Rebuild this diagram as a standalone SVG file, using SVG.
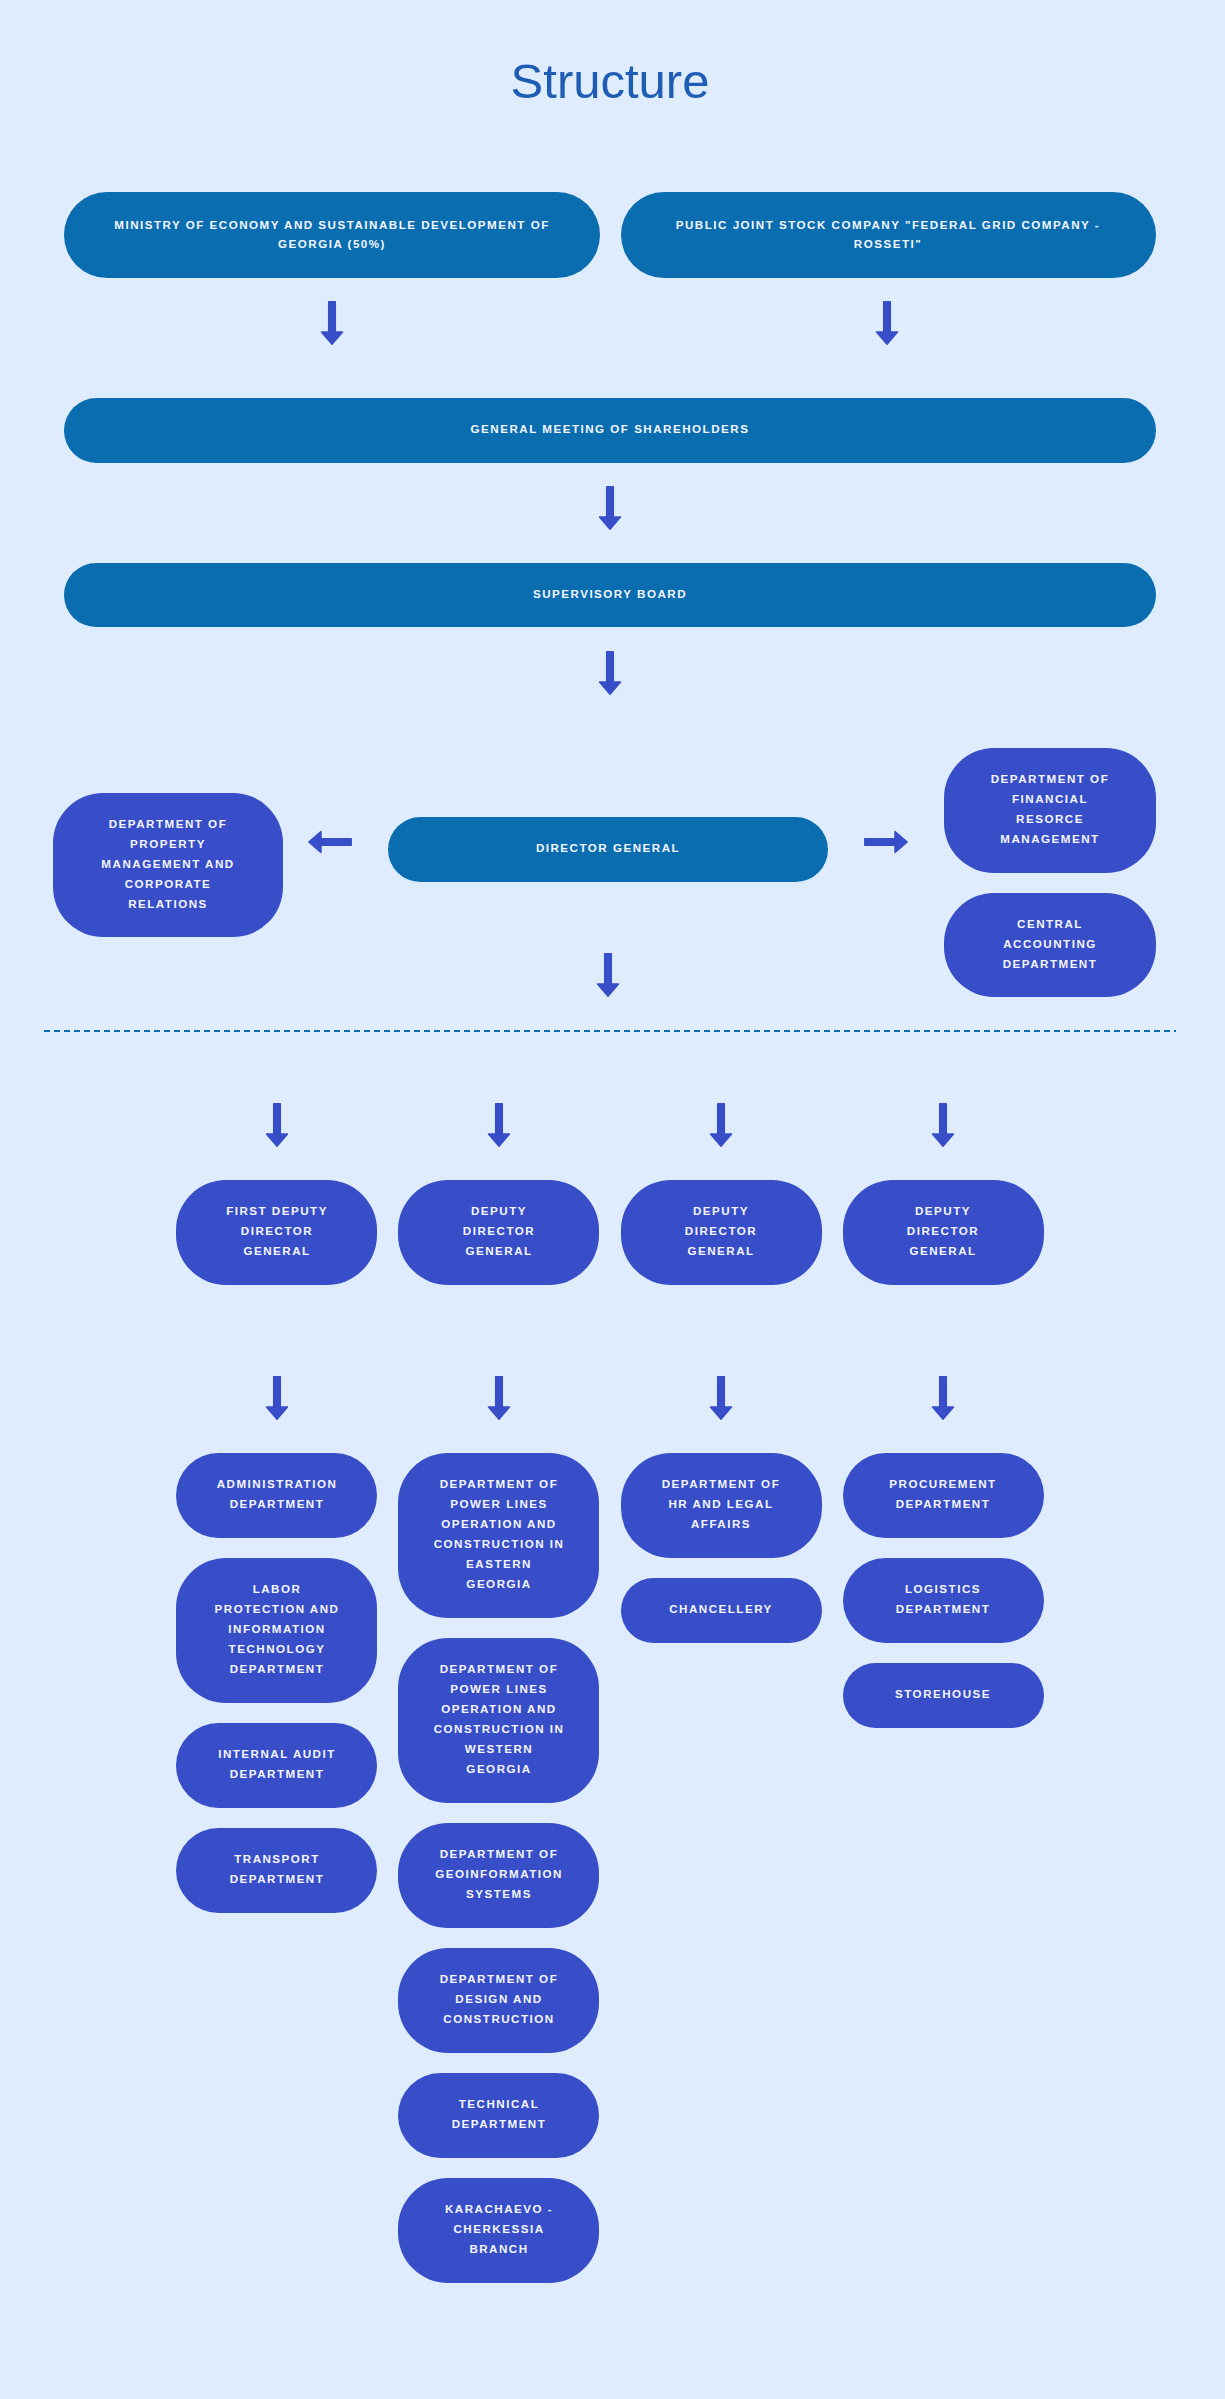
<svg xmlns="http://www.w3.org/2000/svg" xmlns:xlink="http://www.w3.org/1999/xlink" width="1225" height="2399" viewBox="0 0 1225 2399">
<style>
.bg{fill:#deecfe}
.dk{fill:#0a6db0}
.pu{fill:#384ec8}
.t{font-family:"Liberation Sans",Arial,sans-serif;font-weight:bold;font-size:11.6px;letter-spacing:1.5px;fill:#f4f6ff;text-anchor:middle}
.title{font-family:"Liberation Sans",Arial,sans-serif;font-size:49px;fill:#1f5db5;text-anchor:middle}
.arr{fill:#384ec8;stroke:#384ec8;stroke-width:1.5;stroke-linejoin:round}
.dash{stroke:#0a6db0;stroke-width:2;stroke-dasharray:6 4;fill:none}
</style>
<defs>
<path id="ad" class="arr" d="M-3.3,0.8 H3.3 V31 H10.5 L0,43.2 L-10.5,31 H-3.3 Z"/>
</defs>
<rect class="bg" x="0" y="0" width="1225" height="2399"/>
<text class="title" x="610" y="98">Structure</text>

<g id="connectors">
<use xlink:href="#ad" x="332" y="301"/>
<use xlink:href="#ad" x="887" y="301"/>
<use xlink:href="#ad" x="610" y="486"/>
<use xlink:href="#ad" x="610" y="651"/>
<use xlink:href="#ad" x="608" y="953"/>
<use xlink:href="#ad" transform="translate(352,842) rotate(90)"/>
<use xlink:href="#ad" transform="translate(864,842) rotate(-90)"/>
<line class="dash" x1="44" y1="1031" x2="1176" y2="1031"/>
<use xlink:href="#ad" x="277" y="1103"/>
<use xlink:href="#ad" x="499" y="1103"/>
<use xlink:href="#ad" x="721" y="1103"/>
<use xlink:href="#ad" x="943" y="1103"/>
<use xlink:href="#ad" x="277" y="1376"/>
<use xlink:href="#ad" x="499" y="1376"/>
<use xlink:href="#ad" x="721" y="1376"/>
<use xlink:href="#ad" x="943" y="1376"/>
</g>

<g id="ministry"><rect class="dk" x="64" y="192" width="536" height="86" rx="43" ry="43"/>
<text class="t" x="332" y="229">MINISTRY OF ECONOMY AND SUSTAINABLE DEVELOPMENT OF</text>
<text class="t" x="332" y="248">GEORGIA (50%)</text></g>

<g id="rosseti"><rect class="dk" x="621" y="192" width="535" height="86" rx="43" ry="43"/>
<text class="t" x="888" y="229">PUBLIC JOINT STOCK COMPANY "FEDERAL GRID COMPANY -</text>
<text class="t" x="888" y="248">ROSSETI"</text></g>

<g id="general-meeting"><rect class="dk" x="64" y="398" width="1092" height="65" rx="32.5" ry="32.5"/>
<text class="t" x="610" y="433">GENERAL MEETING OF SHAREHOLDERS</text></g>

<g id="supervisory-board"><rect class="dk" x="64" y="563" width="1092" height="64" rx="32" ry="32"/>
<text class="t" x="610" y="598">SUPERVISORY BOARD</text></g>

<g id="director-general"><rect class="dk" x="388" y="817" width="440" height="65" rx="32.5" ry="32.5"/>
<text class="t" x="608" y="852">DIRECTOR GENERAL</text></g>

<g id="property"><rect class="pu" x="53" y="793" width="230" height="144" rx="50" ry="50"/>
<text class="t" x="168" y="828">DEPARTMENT OF</text>
<text class="t" x="168" y="848">PROPERTY</text>
<text class="t" x="168" y="868">MANAGEMENT AND</text>
<text class="t" x="168" y="888">CORPORATE</text>
<text class="t" x="168" y="908">RELATIONS</text></g>

<g id="financial"><rect class="pu" x="944" y="748" width="212" height="125" rx="50" ry="50"/>
<text class="t" x="1050" y="783">DEPARTMENT OF</text>
<text class="t" x="1050" y="803">FINANCIAL</text>
<text class="t" x="1050" y="823">RESORCE</text>
<text class="t" x="1050" y="843">MANAGEMENT</text></g>

<g id="central-accounting"><rect class="pu" x="944" y="893" width="212" height="104" rx="50" ry="50"/>
<text class="t" x="1050" y="928">CENTRAL</text>
<text class="t" x="1050" y="948">ACCOUNTING</text>
<text class="t" x="1050" y="968">DEPARTMENT</text></g>

<g id="first-deputy"><rect class="pu" x="176" y="1180" width="201" height="105" rx="50" ry="50"/>
<text class="t" x="277" y="1215">FIRST DEPUTY</text>
<text class="t" x="277" y="1235">DIRECTOR</text>
<text class="t" x="277" y="1255">GENERAL</text></g>

<g id="deputy-2"><rect class="pu" x="398" y="1180" width="201" height="105" rx="50" ry="50"/>
<text class="t" x="499" y="1215">DEPUTY</text>
<text class="t" x="499" y="1235">DIRECTOR</text>
<text class="t" x="499" y="1255">GENERAL</text></g>

<g id="deputy-3"><rect class="pu" x="621" y="1180" width="201" height="105" rx="50" ry="50"/>
<text class="t" x="721" y="1215">DEPUTY</text>
<text class="t" x="721" y="1235">DIRECTOR</text>
<text class="t" x="721" y="1255">GENERAL</text></g>

<g id="deputy-4"><rect class="pu" x="843" y="1180" width="201" height="105" rx="50" ry="50"/>
<text class="t" x="943" y="1215">DEPUTY</text>
<text class="t" x="943" y="1235">DIRECTOR</text>
<text class="t" x="943" y="1255">GENERAL</text></g>

<g id="administration"><rect class="pu" x="176" y="1453" width="201" height="85" rx="42.5" ry="42.5"/>
<text class="t" x="277" y="1488">ADMINISTRATION</text>
<text class="t" x="277" y="1508">DEPARTMENT</text></g>

<g id="labor"><rect class="pu" x="176" y="1558" width="201" height="145" rx="50" ry="50"/>
<text class="t" x="277" y="1593">LABOR</text>
<text class="t" x="277" y="1613">PROTECTION AND</text>
<text class="t" x="277" y="1633">INFORMATION</text>
<text class="t" x="277" y="1653">TECHNOLOGY</text>
<text class="t" x="277" y="1673">DEPARTMENT</text></g>

<g id="internal-audit"><rect class="pu" x="176" y="1723" width="201" height="85" rx="42.5" ry="42.5"/>
<text class="t" x="277" y="1758">INTERNAL AUDIT</text>
<text class="t" x="277" y="1778">DEPARTMENT</text></g>

<g id="transport"><rect class="pu" x="176" y="1828" width="201" height="85" rx="42.5" ry="42.5"/>
<text class="t" x="277" y="1863">TRANSPORT</text>
<text class="t" x="277" y="1883">DEPARTMENT</text></g>

<g id="eastern"><rect class="pu" x="398" y="1453" width="201" height="165" rx="50" ry="50"/>
<text class="t" x="499" y="1488">DEPARTMENT OF</text>
<text class="t" x="499" y="1508">POWER LINES</text>
<text class="t" x="499" y="1528">OPERATION AND</text>
<text class="t" x="499" y="1548">CONSTRUCTION IN</text>
<text class="t" x="499" y="1568">EASTERN</text>
<text class="t" x="499" y="1588">GEORGIA</text></g>

<g id="western"><rect class="pu" x="398" y="1638" width="201" height="165" rx="50" ry="50"/>
<text class="t" x="499" y="1673">DEPARTMENT OF</text>
<text class="t" x="499" y="1693">POWER LINES</text>
<text class="t" x="499" y="1713">OPERATION AND</text>
<text class="t" x="499" y="1733">CONSTRUCTION IN</text>
<text class="t" x="499" y="1753">WESTERN</text>
<text class="t" x="499" y="1773">GEORGIA</text></g>

<g id="geoinformation"><rect class="pu" x="398" y="1823" width="201" height="105" rx="50" ry="50"/>
<text class="t" x="499" y="1858">DEPARTMENT OF</text>
<text class="t" x="499" y="1878">GEOINFORMATION</text>
<text class="t" x="499" y="1898">SYSTEMS</text></g>

<g id="design"><rect class="pu" x="398" y="1948" width="201" height="105" rx="50" ry="50"/>
<text class="t" x="499" y="1983">DEPARTMENT OF</text>
<text class="t" x="499" y="2003">DESIGN AND</text>
<text class="t" x="499" y="2023">CONSTRUCTION</text></g>

<g id="technical"><rect class="pu" x="398" y="2073" width="201" height="85" rx="42.5" ry="42.5"/>
<text class="t" x="499" y="2108">TECHNICAL</text>
<text class="t" x="499" y="2128">DEPARTMENT</text></g>

<g id="karachaevo"><rect class="pu" x="398" y="2178" width="201" height="105" rx="50" ry="50"/>
<text class="t" x="499" y="2213">KARACHAEVO -</text>
<text class="t" x="499" y="2233">CHERKESSIA</text>
<text class="t" x="499" y="2253">BRANCH</text></g>

<g id="hr-legal"><rect class="pu" x="621" y="1453" width="201" height="105" rx="50" ry="50"/>
<text class="t" x="721" y="1488">DEPARTMENT OF</text>
<text class="t" x="721" y="1508">HR AND LEGAL</text>
<text class="t" x="721" y="1528">AFFAIRS</text></g>

<g id="chancellery"><rect class="pu" x="621" y="1578" width="201" height="65" rx="32.5" ry="32.5"/>
<text class="t" x="721" y="1613">CHANCELLERY</text></g>

<g id="procurement"><rect class="pu" x="843" y="1453" width="201" height="85" rx="42.5" ry="42.5"/>
<text class="t" x="943" y="1488">PROCUREMENT</text>
<text class="t" x="943" y="1508">DEPARTMENT</text></g>

<g id="logistics"><rect class="pu" x="843" y="1558" width="201" height="85" rx="42.5" ry="42.5"/>
<text class="t" x="943" y="1593">LOGISTICS</text>
<text class="t" x="943" y="1613">DEPARTMENT</text></g>

<g id="storehouse"><rect class="pu" x="843" y="1663" width="201" height="65" rx="32.5" ry="32.5"/>
<text class="t" x="943" y="1698">STOREHOUSE</text></g>
</svg>
